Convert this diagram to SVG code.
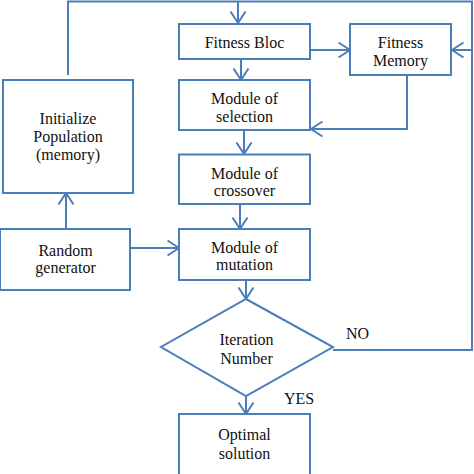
<svg xmlns="http://www.w3.org/2000/svg" width="474" height="474" viewBox="0 0 474 474">
<style>
.box{fill:#fff;stroke:#4a7ebb;stroke-width:2}
.ln{fill:none;stroke:#4a7ebb;stroke-width:2}
text{font-family:"Liberation Serif","Times New Roman",serif;font-size:16px;fill:#111;text-anchor:middle}
.lbl{text-anchor:start}
</style>
<defs>
<marker id="ah" viewBox="0 0 14 18" markerWidth="14" markerHeight="18" refX="12.5" refY="9" orient="auto" markerUnits="userSpaceOnUse">
<path d="M1,1.5 L12.5,9 L1,16.5" fill="none" stroke="#4a7ebb" stroke-width="2"/>
</marker>
</defs>
<rect width="474" height="474" fill="#fff"/>
<g id="connectors">
<polyline class="ln" points="68,75 68,1.5 472,1.5 472,350 333,350"/>
<line class="ln" x1="238" y1="1.5" x2="238" y2="23" marker-end="url(#ah)"/>
<line class="ln" x1="472" y1="50" x2="452" y2="50" marker-end="url(#ah)"/>
<line class="ln" x1="310" y1="50" x2="350" y2="50" marker-end="url(#ah)"/>
<line class="ln" x1="241" y1="59" x2="241" y2="80" marker-end="url(#ah)"/>
<polyline class="ln" points="407,75 407,129 311,129" marker-end="url(#ah)"/>
<line class="ln" x1="244" y1="130" x2="244" y2="154" marker-end="url(#ah)"/>
<line class="ln" x1="240" y1="204" x2="240" y2="229" marker-end="url(#ah)"/>
<line class="ln" x1="66" y1="229" x2="66" y2="193" marker-end="url(#ah)"/>
<line class="ln" x1="130" y1="248" x2="179" y2="248" marker-end="url(#ah)"/>
<line class="ln" x1="246" y1="280" x2="246" y2="299" marker-end="url(#ah)"/>
<line class="ln" x1="246" y1="396" x2="246" y2="414" marker-end="url(#ah)"/>
</g>
<g id="fitness-bloc">
<rect class="box" x="179" y="24" width="131" height="35"/>
<text x="244.5" y="47.5">Fitness Bloc</text>
</g>
<g id="fitness-memory">
<rect class="box" x="350" y="24" width="101" height="51"/>
<text x="400.5" y="47.5">Fitness</text>
<text x="400.5" y="65.5">Memory</text>
</g>
<g id="selection">
<rect class="box" x="179" y="80" width="131" height="50"/>
<text x="244.5" y="103.5">Module of</text>
<text x="244.5" y="121.5">selection</text>
</g>
<g id="initialize">
<rect class="box" x="3" y="80" width="130" height="113"/>
<text x="68" y="124">Initialize</text>
<text x="68" y="141.5">Population</text>
<text x="68" y="159.5">(memory)</text>
</g>
<g id="crossover">
<rect class="box" x="179" y="154.5" width="131" height="49.5"/>
<text x="244.5" y="178.5">Module of</text>
<text x="244.5" y="196">crossover</text>
</g>
<g id="mutation">
<rect class="box" x="179" y="229" width="131" height="51"/>
<text x="244.5" y="252.5">Module of</text>
<text x="244.5" y="270">mutation</text>
</g>
<g id="random">
<rect class="box" x="0" y="229" width="130" height="61"/>
<text x="65.5" y="255.5">Random</text>
<text x="65.5" y="273">generator</text>
</g>
<g id="iteration">
<polygon class="box" points="246,299 333,347 246,396 161,347"/>
<text x="246.5" y="345">Iteration</text>
<text x="246.5" y="364">Number</text>
</g>
<g id="optimal">
<rect class="box" x="179" y="414" width="131" height="70"/>
<text x="244.5" y="440">Optimal</text>
<text x="244.5" y="459">solution</text>
</g>
<g id="labels">
<text class="lbl" x="346" y="338.5">NO</text>
<text class="lbl" x="284" y="403.5">YES</text>
</g>
</svg>
